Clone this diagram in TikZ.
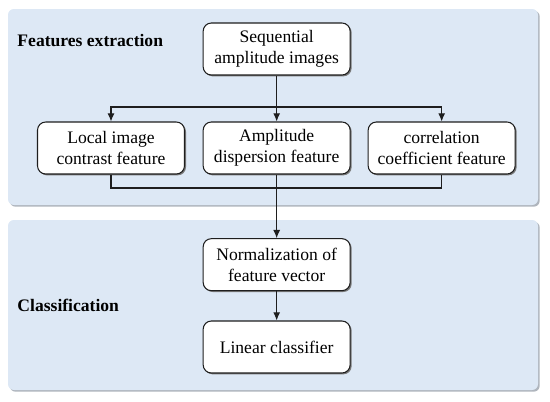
\documentclass[tikz,border=0pt]{standalone}
\usepackage{fontspec}
\setmainfont{Liberation Serif}
\newfontfamily\tmfont{Liberation Serif}
\usetikzlibrary{positioning,arrows.meta}
\definecolor{panelblue}{RGB}{221,232,245}
\definecolor{panelshade}{RGB}{175,181,189}
\definecolor{boxshade}{RGB}{120,120,120}
\definecolor{boxline}{RGB}{30,30,30}

\begin{document}
\begin{tikzpicture}[
      every node/.style={execute at begin node={\tmfont\fontsize{15}{18}\selectfont}},
      panel/.style={fill=panelblue, rounded corners=5pt},
      panelshadow/.style={fill=panelshade, rounded corners=5pt},
      stepbox/.style={draw=boxline, line width=0.9pt, fill=white, rounded corners=7pt, minimum width=4.41cm, minimum height=1.56cm, align=center, inner sep=2pt},
      title/.style={execute at begin node={\bfseries}, anchor=west},
      link/.style={-{Latex[length=7pt,width=6pt]}, line width=0.9pt, boxline}
    ]
      \useasboundingbox (0,0) rectangle (16.5,-12.06);

      % Panels with their shadows
      \path[panelshadow] (0.29,-0.32) rectangle (16.19,-6.2);
      \path[panel] (0.24,-0.27) rectangle (16.14,-6.15);
      \path[panelshadow] (0.29,-6.65) rectangle (16.19,-11.75);
      \path[panel] (0.24,-6.6) rectangle (16.14,-11.7);

      % Box shadows
      \foreach \cx/\cy in {8.3/-1.47, 3.33/-4.44, 8.3/-4.44, 13.25/-4.44, 8.3/-7.94, 8.3/-10.41}
        \fill[boxshade, rounded corners=7pt] (\cx-2.17,\cy-0.82) rectangle (\cx+2.25,\cy+0.74);

      % Panel titles
      \node[title] (ttl1) at (0.4,-1.23) {Features extraction};
      \node[title] (ttl2) at (0.4,-9.15) {Classification};

      % Features extraction
      \node[stepbox] (seq) at (8.3,-1.47) {Sequential\\amplitude images};
      \node[stepbox] (amp) at (8.3,-4.44) {Amplitude\\dispersion feature};
      \node[stepbox] (loc) at (3.33,-4.44) {Local image\\contrast feature};
      \node[stepbox] (cor) at (13.25,-4.44) {correlation\\coefficient feature};

      \coordinate (split) at (8.3,-3.21);
      \coordinate (merge) at (8.3,-5.64);
      \draw[link] (seq.south) -- (amp.north);
      \draw[link] (split) -| (loc.north);
      \draw[link] (split) -| (cor.north);
      \draw[line width=0.9pt, boxline] (loc.south) |- (merge) -| (cor.south);
      \draw[line width=0.9pt, boxline] (amp.south) -- (merge);

      % Classification
      \node[stepbox] (nrm) at (8.3,-7.94) {Normalization of\\feature vector};
      \node[stepbox] (lin) at (8.3,-10.41) {Linear classifier};

      \draw[link] (merge) -- (nrm.north);
      \draw[link] (nrm.south) -- (lin.north);
    \end{tikzpicture}
\end{document}
